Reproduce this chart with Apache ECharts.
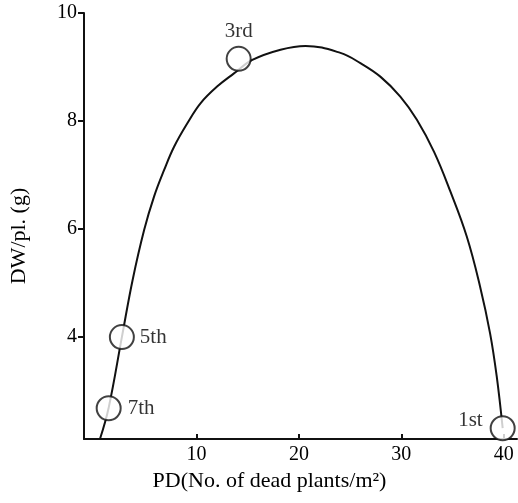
<!DOCTYPE html>
<html>
<head>
<meta charset="utf-8">
<script src="https://cdn.jsdelivr.net/npm/echarts@6/dist/echarts.min.js"></script>
<style>
    html, body { margin: 0; padding: 0; background: #fff; }
    #chart { width: 518px; height: 503px; }
</style>
</head>
<body>
<div id="chart"></div>
<script>
    // fitted curve
    var curvePoints = [
        [0.56, 2.10], [1.41, 2.68], [2.70, 3.99], [3.75, 5.05], [4.88, 5.98],
        [5.85, 6.60], [6.83, 7.09], [7.80, 7.52], [9.11, 7.96], [10.40, 8.33],
        [12.03, 8.64], [13.65, 8.88], [15.44, 9.13], [18.20, 9.32], [20.64, 9.39],
        [24.05, 9.26], [26.00, 9.07], [27.95, 8.82], [29.90, 8.45], [31.52, 8.02],
        [33.21, 7.42], [34.77, 6.70], [36.40, 5.85], [37.69, 4.93], [38.67, 4.06],
        [39.32, 3.26], [39.90, 2.30]
    ];

    // observed points (sowing order)
    var pointNames = ['7th', '5th', '3rd', '1st'];
    var pointPD = [1.41, 2.70, 14.11, 39.90];
    var pointDW = [2.67, 3.99, 9.15, 2.30];

    var xTicks = [10, 20, 30, 40];
    var yTicks = [4, 6, 8, 10];

    var labelPos = {
        '7th': { position: 'right', distance: 6 },
        '5th': { position: 'right', distance: 5 },
        '3rd': { position: 'top', distance: 4 },
        '1st': { position: 'left', distance: 7, offset: [0, -8] }
    };

    var ink = '#111';
    var serif = '"Liberation Serif", "DejaVu Serif", serif';

    var points = pointNames.map(function (name, i) {
        var p = labelPos[name];
        return {
            name: name,
            value: [pointPD[i], pointDW[i]],
            label: {
                show: true,
                formatter: name,
                position: p.position,
                distance: p.distance,
                offset: p.offset || [0, 0]
            }
        };
    });

    var chart = echarts.init(document.getElementById('chart'));

    chart.setOption({
        animation: false,
        grid: { left: 83, right: 1, top: 13, bottom: 64 },
        xAxis: {
            type: 'value',
            min: -1,
            max: 41.3,
            splitLine: { show: false },
            axisLine: { onZero: false, lineStyle: { color: ink, width: 2 } },
            axisTick: { inside: true, length: 5, customValues: xTicks, lineStyle: { color: ink, width: 2 } },
            axisLabel: { customValues: xTicks, color: '#000', fontFamily: serif, fontSize: 20, margin: 6 },
            name: 'PD(No. of dead plants/m²)',
            nameLocation: 'middle',
            nameGap: 31,
            nameTextStyle: { color: '#000', fontFamily: serif, fontSize: 22, padding: [0, 62, 0, 0] }
        },
        yAxis: {
            type: 'value',
            min: 2.1,
            max: 10,
            splitLine: { show: false },
            axisLine: { onZero: false, lineStyle: { color: ink, width: 2 } },
            axisTick: { length: 6, customValues: yTicks, lineStyle: { color: ink, width: 2 } },
            axisLabel: { customValues: yTicks, color: '#000', fontFamily: serif, fontSize: 20, margin: 7 },
            name: 'DW/pl. (g)',
            nameLocation: 'middle',
            nameGap: 54,
            nameTextStyle: { color: '#000', fontFamily: serif, fontSize: 22, padding: [0, 20, 0, 0] }
        },
        series: [
            {
                type: 'line',
                data: curvePoints,
                smooth: 0.4,
                showSymbol: false,
                lineStyle: { color: ink, width: 2 },
                z: 2
            },
            {
                type: 'scatter',
                data: points,
                symbol: 'circle',
                symbolSize: 24,
                itemStyle: { color: '#fff', borderColor: ink, borderWidth: 2 },
                label: { color: '#000', fontFamily: serif, fontSize: 21 },
                z: 3
            }
        ]
    });
</script>
</body>
</html>
